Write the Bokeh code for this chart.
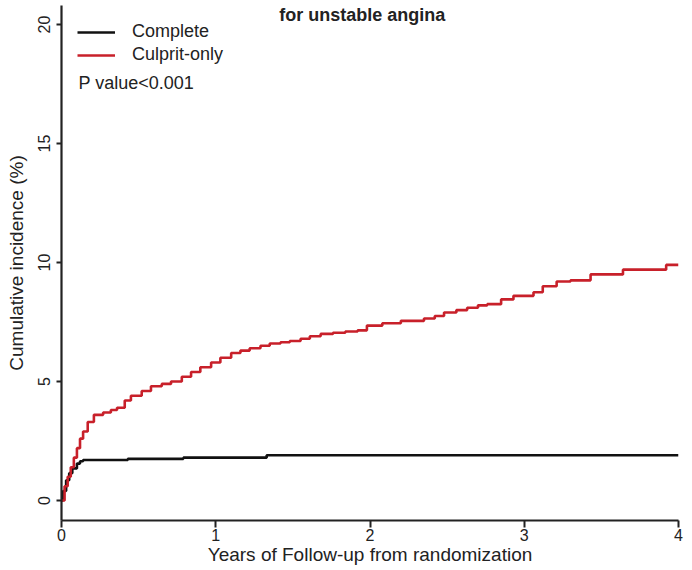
from bokeh.plotting import figure
from bokeh.models import Range1d, FixedTicker, Legend, LegendItem, Label
from bokeh.embed import file_html
from bokeh.resources import INLINE

# Data (years, cumulative incidence %)
culprit_t = [0.0, 0.02, 0.04, 0.06, 0.08, 0.10, 0.12, 0.14, 0.17, 0.21, 0.27, 0.32, 0.36,
             0.41, 0.45, 0.52, 0.58, 0.65, 0.71, 0.78, 0.84, 0.90, 0.97, 1.03, 1.10,
             1.16, 1.22, 1.29, 1.35, 1.42, 1.48, 1.55, 1.61, 1.68, 1.76, 1.84, 1.92, 1.98,
             2.08, 2.20, 2.35, 2.42, 2.48, 2.56, 2.63, 2.70, 2.76, 2.85, 2.93, 3.06, 3.12,
             3.21, 3.30, 3.43, 3.64, 3.92, 4.0]
culprit_v = [0.0, 0.6, 1.0, 1.4, 1.8, 2.2, 2.6, 2.9, 3.3, 3.6, 3.7, 3.8, 3.9,
             4.2, 4.4, 4.6, 4.8, 4.9, 5.0, 5.2, 5.4, 5.6, 5.8, 6.0, 6.2,
             6.3, 6.4, 6.5, 6.6, 6.65, 6.7, 6.8, 6.9, 7.0, 7.05, 7.1, 7.15, 7.35,
             7.45, 7.55, 7.65, 7.75, 7.9, 8.0, 8.1, 8.2, 8.25, 8.45, 8.6, 8.75, 9.0,
             9.2, 9.25, 9.5, 9.7, 9.9, 9.9]

complete_t = [0.0, 0.01, 0.03, 0.05, 0.07, 0.10, 0.12, 0.14, 0.43, 0.79, 1.33, 4.0]
complete_v = [0.0, 0.4, 0.85, 1.15, 1.35, 1.55, 1.65, 1.7, 1.75, 1.8, 1.9, 1.9]

x_ticks = [0, 1, 2, 3, 4]
y_ticks = [0, 5, 10, 15, 20]

FONT = "Liberation Sans"

p = figure(width=692, height=570, output_backend="svg", toolbar_location=None,
           x_range=Range1d(0, 4), y_range=Range1d(-0.84, 20.8),
           min_border_left=61, min_border_right=14, min_border_top=5, min_border_bottom=50)
p.outline_line_color = None
p.xgrid.visible = False
p.ygrid.visible = False
p.background_fill_color = "white"
p.border_fill_color = "white"

r_complete = p.step(complete_t, complete_v, mode="after", line_color="#111111", line_width=2.6)
r_culprit = p.step(culprit_t, culprit_v, mode="after", line_color="#c8202a", line_width=2.6)

for ax in (p.xaxis[0], p.yaxis[0]):
    ax.axis_line_width = 2.2
    ax.axis_line_color = "#222222"
    ax.major_tick_line_width = 2
    ax.major_tick_line_color = "#222222"
    ax.minor_tick_line_color = None
    ax.major_tick_in = 0
    ax.major_label_text_font = FONT
    ax.major_label_text_color = "#222222"
    ax.axis_label_text_font = FONT
    ax.axis_label_text_font_style = "normal"
    ax.axis_label_text_color = "#222222"

p.xaxis.ticker = FixedTicker(ticks=x_ticks)
p.xaxis.major_tick_out = 7
p.xaxis.major_label_text_font_size = "16px"
p.xaxis.major_label_standoff = 1
p.xaxis.axis_label = "Years of Follow-up from randomization"
p.xaxis.axis_label_text_font_size = "19px"
p.xaxis.axis_label_standoff = 0

p.yaxis.ticker = FixedTicker(ticks=y_ticks)
p.yaxis.major_tick_out = 5
p.yaxis.major_label_orientation = "vertical"
p.yaxis.major_label_text_font_size = "16px"
p.yaxis.major_label_standoff = 6
p.yaxis.axis_label = "Cumulative incidence (%)"
p.yaxis.axis_label_text_font_size = "19px"
p.yaxis.axis_label_standoff = 9

legend = Legend(items=[LegendItem(label="Complete", renderers=[r_complete]),
                       LegendItem(label="Culprit-only", renderers=[r_culprit])],
                location="top_left", margin=16, padding=10, spacing=2,
                glyph_width=38, label_standoff=17,
                label_text_font=FONT, label_text_font_size="18px", label_text_color="#222222",
                border_line_color=None, background_fill_alpha=0)
p.add_layout(legend)

p.add_layout(Label(x=0.11, y=17.56, text="P value<0.001", text_font=FONT, text_font_size="18px",
                   text_color="#222222", text_baseline="middle", text_align="left"))
p.add_layout(Label(x=1.95, y=20.4, text="for unstable angina", text_font=FONT, text_font_size="18px",
                   text_font_style="bold", text_color="#222222", text_baseline="alphabetic",
                   text_align="center"))

open("out.html", "w").write(file_html(p, INLINE))
